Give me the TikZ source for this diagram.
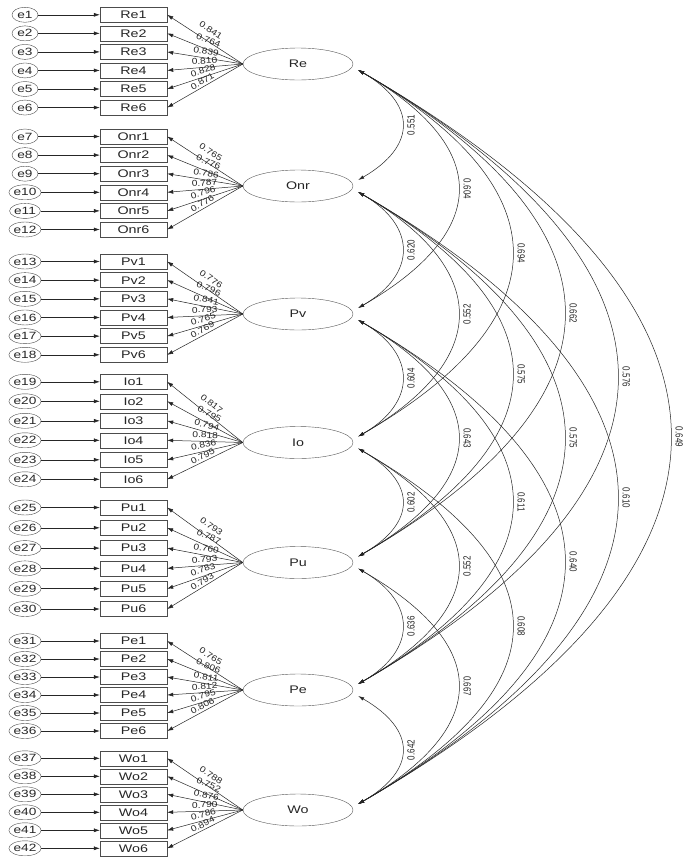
\documentclass[tikz,border=0pt]{standalone}
\usepackage{fontspec}
\setmainfont{Liberation Sans}
\usetikzlibrary{arrows.meta,calc,shapes.geometric}
\newcommand{\hs}[1]{\scalebox{1.3}[1]{#1}}
\newcommand{\ls}[1]{\scalebox{1.2}[1]{#1}}
\newcommand{\cs}[1]{\scalebox{1}[1.3]{#1}}
\begin{document}
\begin{tikzpicture}[x=1pt,y=1pt,
  err/.style={draw=black!70, ellipse, minimum width=26pt, minimum height=15pt, inner sep=0pt, font=\fontsize{10.5}{10.5}\selectfont, text=black!85},
  ind/.style={draw=black!70, rectangle, minimum width=67pt, minimum height=15pt, inner sep=0pt, font=\fontsize{11}{11}\selectfont, text=black!85},
  lat/.style={draw=black!65, ellipse, minimum width=110pt, minimum height=32pt, inner sep=0pt, font=\fontsize{11}{11}\selectfont, text=black!85},
  arr/.style={-{Latex[length=6pt,width=4pt]}, line width=0.5pt, draw=black!85},
  cov/.style={{Latex[length=6pt,width=3.5pt]}-{Latex[length=6pt,width=3.5pt]}, line width=0.5pt, draw=black!85},
  ld/.style={font=\fontsize{8.5}{8.5}\selectfont, sloped, above, pos=0.5, text=black!85},
  cl/.style={font=\fontsize{8}{8}\selectfont, inner sep=5pt, text=black!85}
]
\useasboundingbox (0,0) rectangle (683,-857);
\fill[white] (0,0) rectangle (683,-857);

\foreach \g/\fy/\sp/\ly/\va/\vb/\vc/\vd/\ve/\vf [count=\gi from 0] in {
 Re/14.8/18.55/64/0.841/0.764/0.839/0.810/0.828/0.871,
 Onr/136.5/18.6/186/0.765/0.776/0.786/0.787/0.796/0.776,
 Pv/261.5/18.66/314/0.776/0.796/0.841/0.793/0.765/0.769,
 Io/381.8/19.5/442.5/0.817/0.795/0.794/0.818/0.836/0.795,
 Pu/507.5/20.3/562.5/0.793/0.787/0.760/0.793/0.783/0.793,
 Pe/641/18/690/0.765/0.806/0.811/0.812/0.795/0.806,
 Wo/758.3/18/810/0.788/0.752/0.876/0.790/0.786/0.894}
{
  \node[lat] (\g) at (298,-\ly) {\hs{\g}};
  \foreach \i/\v/\o in {1/\va/7.5,2/\vb/6,3/\vc/3.5,4/\vd/3,5/\ve/3,6/\vf/2}{
    \pgfmathsetmacro\yy{\fy+(\i-1)*\sp}
    \pgfmathtruncatemacro\en{\gi*6+\i}
    \node[ind] (\g\i) at (133.5,-\yy) {\hs{\g\i}};
    \node[err] (e\en) at (25,-\yy) {\hs{e\en}};
    \draw[arr] (e\en) -- (\g\i);
    \draw[arr] (\g.west) -- (\g\i.east) node[ld, inner sep=\o pt]{\ls{\v}};
  }
}

\foreach \a/\b/\s/\v/\r/\an in {
 Re/Onr/44/0.551/90/north,
 Onr/Pv/44/0.620/90/north,
 Pv/Io/44/0.604/90/north,
 Io/Pu/44/0.602/90/north,
 Pu/Pe/44/0.636/90/north,
 Pe/Wo/44/0.642/90/north,
 Re/Pv/100/0.604/-90/south,
 Onr/Io/100/0.552/90/north,
 Pv/Pu/100/0.643/-90/south,
 Io/Pe/100/0.552/90/north,
 Pu/Wo/100/0.667/-90/south,
 Re/Io/154/0.694/-90/south,
 Onr/Pu/154/0.575/-90/south,
 Pv/Pe/154/0.611/-90/south,
 Io/Wo/154/0.608/-90/south,
 Re/Pu/206/0.662/-90/south,
 Onr/Pe/206/0.575/-90/south,
 Pv/Wo/206/0.640/-90/south,
 Re/Pe/259/0.576/-90/south,
 Onr/Wo/259/0.610/-90/south,
 Re/Wo/312/0.649/-90/south}
{
  \pgfmathsetmacro\L{\s*1.5396}
  \draw[cov] ($(\a.east)+(5,-6)$) .. controls +(-30:\L) and +(30:\L) .. ($(\b.east)+(5,6)$) node[cl, pos=0.5, rotate=\r, anchor=\an]{\cs{\v}};
}
\end{tikzpicture}
\end{document}
